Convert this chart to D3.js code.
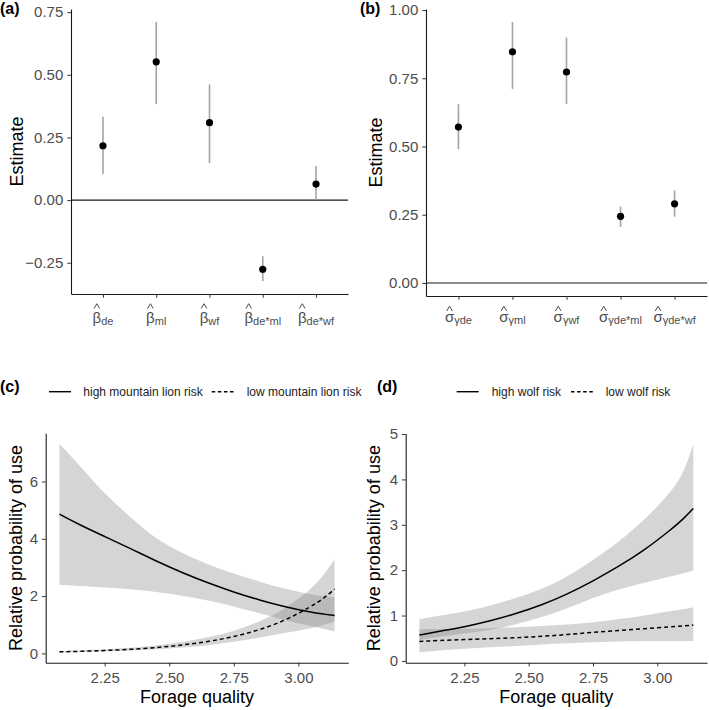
<!DOCTYPE html>
<html><head><meta charset="utf-8">
<script src="https://cdn.jsdelivr.net/npm/d3@7"></script>
<style>
body{margin:0;background:#fff;}
text{font-family:"Liberation Sans", Arial, sans-serif;}
</style>
</head><body>
<svg id="chart" width="709" height="710"></svg>
<script>
// ---------------- DATA ----------------
// Panel (a): fixed-effect coefficient estimates
const betaSubs = ["de", "ml", "wf", "de*ml", "de*wf"];
const betaEst  = [0.217, 0.552, 0.309, -0.276, 0.064];
const betaLo   = [0.104, 0.383, 0.148, -0.323, 0.000];
const betaHi   = [0.333, 0.711, 0.462, -0.224, 0.136];
const betaTicks = [-0.25, 0.00, 0.25, 0.50, 0.75];

// Panel (b): random-effect standard deviations
const sigmaSubs = ["γde", "γml", "γwf", "γde*ml", "γde*wf"];
const sigmaEst  = [0.571, 0.847, 0.773, 0.244, 0.290];
const sigmaLo   = [0.490, 0.711, 0.656, 0.205, 0.243];
const sigmaHi   = [0.655, 0.956, 0.899, 0.280, 0.339];
const sigmaTicks = [0.00, 0.25, 0.50, 0.75, 1.00];

// Panels (c),(d): forage quality grid
const forage = [2.075, 2.15, 2.25, 2.35, 2.45, 2.55, 2.65, 2.75, 2.85, 2.95, 3.05, 3.10, 3.14];
const forageTicks = [2.25, 2.50, 2.75, 3.00];

// (c) mountain lion
const mlHighMean  = [4.86, 4.50, 4.08, 3.66, 3.22, 2.82, 2.46, 2.14, 1.86, 1.62, 1.43, 1.37, 1.32];
const mlHighUpper = [7.32, 6.60, 5.56, 4.75, 3.98, 3.50, 3.10, 2.78, 2.50, 2.25, 2.05, 1.99, 1.95];
const mlHighLower = [2.40, 2.35, 2.30, 2.25, 2.15, 2.02, 1.85, 1.65, 1.40, 1.15, 0.95, 0.85, 0.77];
const mlLowMean   = [0.055, 0.07, 0.10, 0.14, 0.20, 0.29, 0.41, 0.58, 0.82, 1.15, 1.64, 1.93, 2.25];
const mlLowUpper  = [0.08, 0.10, 0.14, 0.19, 0.27, 0.39, 0.55, 0.78, 1.10, 1.55, 2.25, 2.75, 3.28];
const mlLowLower  = [0.04, 0.05, 0.07, 0.10, 0.14, 0.20, 0.28, 0.40, 0.55, 0.72, 0.88, 1.00, 1.12];
const mlTicks = [0, 2, 4, 6];

// (d) wolf
const wfHighMean  = [0.57, 0.65, 0.75, 0.88, 1.04, 1.23, 1.47, 1.76, 2.08, 2.44, 2.88, 3.12, 3.36];
const wfHighUpper = [0.92, 0.99, 1.08, 1.22, 1.38, 1.58, 1.85, 2.22, 2.62, 3.10, 3.70, 4.10, 4.78];
const wfHighLower = [0.46, 0.53, 0.60, 0.68, 0.80, 0.96, 1.15, 1.40, 1.58, 1.72, 1.86, 1.93, 1.99];
const wfLowMean   = [0.43, 0.45, 0.47, 0.49, 0.51, 0.54, 0.58, 0.63, 0.67, 0.71, 0.75, 0.77, 0.79];
const wfLowUpper  = [0.70, 0.70, 0.71, 0.72, 0.74, 0.77, 0.80, 0.85, 0.92, 1.00, 1.10, 1.14, 1.18];
const wfLowLower  = [0.19, 0.23, 0.27, 0.30, 0.33, 0.36, 0.39, 0.41, 0.43, 0.44, 0.44, 0.44, 0.44];
const wfTicks = [0, 1, 2, 3, 4, 5];

// ---------------- DRAW ----------------
const svg = d3.select("#chart");
const TICKCOL = "#4d4d4d";
const AXCOL = "#1a1a1a";

function expand(lo, hi, f) { const d = (hi - lo) * f; return [lo - d, hi + d]; }

function styleAxis(g) {
  g.selectAll(".domain").attr("stroke", AXCOL).attr("stroke-width", 1.1);
  g.selectAll(".tick line").attr("stroke", "#333").attr("stroke-width", 1);
  g.selectAll(".tick text").attr("fill", TICKCOL).style("font-size", "15px")
    .style("font-family", '"Liberation Sans", Arial, sans-serif');
}

function yTitle(text, x, yc) {
  svg.append("text").attr("transform", `translate(${x},${yc}) rotate(-90)`)
    .attr("text-anchor", "middle").style("font-size", "18px").attr("fill", "#000").text(text);
}
function tag(text, x, y) {
  svg.append("text").attr("x", x).attr("y", y).style("font-size", "16px")
    .style("font-weight", "bold").attr("fill", "#000").text(text);
}

function coefPanel(o) {
  const n = o.est.length;
  const idx = d3.range(n);
  const x = d3.scalePoint().domain(idx).range([o.left, o.right]).padding(0.6);
  const ydom = expand(Math.min(0, d3.min(o.lo)), Math.max(0, d3.max(o.hi)), 0.05);
  const y = d3.scaleLinear().domain(ydom).range([o.bottom, o.top]);
  const g = svg.append("g");

  g.append("line").attr("x1", o.left).attr("x2", o.right)
    .attr("y1", y(0)).attr("y2", y(0)).attr("stroke", AXCOL).attr("stroke-width", 1.1);
  g.selectAll(".eb").data(idx).enter().append("line")
    .attr("x1", i => x(i)).attr("x2", i => x(i))
    .attr("y1", i => y(o.lo[i])).attr("y2", i => y(o.hi[i]))
    .attr("stroke", "#a3a3a3").attr("stroke-width", 1.6);
  g.selectAll(".pt").data(idx).enter().append("circle")
    .attr("cx", i => x(i)).attr("cy", i => y(o.est[i])).attr("r", 3.6).attr("fill", "#000");

  const ya = svg.append("g").attr("transform", `translate(${o.left},0)`)
    .call(d3.axisLeft(y).tickValues(o.ticks).tickFormat(d3.format(".2f")).tickSize(3.7).tickSizeOuter(0).tickPadding(4));
  styleAxis(ya);
  const xa = svg.append("g").attr("transform", `translate(0,${o.bottom})`)
    .call(d3.axisBottom(x).tickFormat("").tickSize(3.7).tickSizeOuter(0));
  styleAxis(xa);

  // labels: base symbol with subscript, hat drawn as a small caret mark
  idx.forEach(i => {
    const t = svg.append("text").attr("x", x(i)).attr("y", o.labBase)
      .attr("text-anchor", "middle").attr("fill", TICKCOL).style("font-size", "15px");
    t.append("tspan").text(o.base);
    t.append("tspan").attr("dy", o.subDy).style("font-size", "11px").text(o.subs[i]);
    const ext = t.node().getExtentOfChar(0);
    const cx = ext.x + ext.width / 2;
    svg.append("path")
      .attr("d", `M${cx - 2.8},${o.hatBottom} L${cx},${o.hatBottom - 4.8} L${cx + 2.8},${o.hatBottom}`)
      .attr("fill", "none").attr("stroke", TICKCOL).attr("stroke-width", 1);
  });
  yTitle("Estimate", o.titleX, (o.top + o.bottom) / 2);
}

coefPanel({ est: betaEst, lo: betaLo, hi: betaHi, subs: betaSubs, base: "β", ticks: betaTicks,
  left: 71, right: 348, top: 9, bottom: 294, labBase: 322.5, subDy: 2.5, hatBottom: 308.5, titleX: 22.5 });
coefPanel({ est: sigmaEst, lo: sigmaLo, hi: sigmaHi, subs: sigmaSubs, base: "σ", ticks: sigmaTicks,
  left: 426, right: 707, top: 9, bottom: 296, labBase: 321.5, subDy: 2.5, hatBottom: 311, titleX: 382 });
tag("(a)", 0, 14);
tag("(b)", 360, 14);

function curvePanel(o) {
  const xdom = expand(d3.min(forage), d3.max(forage), 0.05);
  const x = d3.scaleLinear().domain(xdom).range([o.left, o.right]);
  const ymin = Math.min(d3.min(o.highLower), d3.min(o.lowLower));
  const ymax = Math.max(d3.max(o.highUpper), d3.max(o.lowUpper));
  const y = d3.scaleLinear().domain(expand(ymin, ymax, 0.05)).range([o.bottom, o.top]);
  const idx = d3.range(forage.length);
  const curve = d3.curveBasis;
  const area = (lo, hi) => d3.area().x(i => x(forage[i])).y0(i => y(lo[i])).y1(i => y(hi[i])).curve(curve)(idx);
  const line = (m) => d3.line().x(i => x(forage[i])).y(i => y(m[i])).curve(curve)(idx);

  svg.append("path").attr("d", area(o.highLower, o.highUpper)).attr("fill", "#808080").attr("fill-opacity", 0.33);
  svg.append("path").attr("d", area(o.lowLower, o.lowUpper)).attr("fill", "#808080").attr("fill-opacity", 0.33);
  svg.append("path").attr("d", line(o.highMean)).attr("fill", "none").attr("stroke", "#000").attr("stroke-width", 1.5);
  svg.append("path").attr("d", line(o.lowMean)).attr("fill", "none").attr("stroke", "#000").attr("stroke-width", 1.5)
    .attr("stroke-dasharray", "4,3");

  const ya = svg.append("g").attr("transform", `translate(${o.left},0)`)
    .call(d3.axisLeft(y).tickValues(o.ticks).tickFormat(d3.format("d")).tickSize(3.7).tickSizeOuter(0).tickPadding(4));
  styleAxis(ya);
  const xa = svg.append("g").attr("transform", `translate(0,${o.bottom})`)
    .call(d3.axisBottom(x).tickValues(forageTicks).tickFormat(d3.format(".2f")).tickSize(3.7).tickSizeOuter(0).tickPadding(6));
  styleAxis(xa);

  yTitle("Relative probability of use", o.titleX, (o.top + o.bottom) / 2);
  svg.append("text").attr("x", (o.left + o.right) / 2).attr("y", 703).attr("text-anchor", "middle")
    .style("font-size", "18px").attr("fill", "#000").text("Forage quality");

  const L = o.legend;
  svg.append("line").attr("x1", L.x1).attr("x2", L.x1 + 22).attr("y1", 391.7).attr("y2", 391.7)
    .attr("stroke", "#000").attr("stroke-width", 1.4);
  svg.append("text").attr("x", L.t1).attr("y", 396).style("font-size", "12px").attr("fill", "#222").text(L.label1);
  svg.append("line").attr("x1", L.x2).attr("x2", L.x2 + 22).attr("y1", 391.7).attr("y2", 391.7)
    .attr("stroke", "#000").attr("stroke-width", 1.4).attr("stroke-dasharray", "3.5,2.6");
  svg.append("text").attr("x", L.t2).attr("y", 396).style("font-size", "12px").attr("fill", "#222").text(L.label2);
}

curvePanel({ highMean: mlHighMean, highUpper: mlHighUpper, highLower: mlHighLower,
  lowMean: mlLowMean, lowUpper: mlLowUpper, lowLower: mlLowLower, ticks: mlTicks,
  left: 45.7, right: 348.3, top: 433.3, bottom: 662.7, titleX: 22,
  legend: { x1: 49, t1: 83.3, x2: 211.7, t2: 246.7, label1: "high mountain lion risk", label2: "low mountain lion risk" } });
curvePanel({ highMean: wfHighMean, highUpper: wfHighUpper, highLower: wfHighLower,
  lowMean: wfLowMean, lowUpper: wfLowUpper, lowLower: wfLowLower, ticks: wfTicks,
  left: 405.7, right: 707, top: 433.6, bottom: 662.7, titleX: 380,
  legend: { x1: 456.7, t1: 491.7, x2: 571, t2: 605.7, label1: "high wolf risk", label2: "low wolf risk" } });
tag("(c)", 0, 392);
tag("(d)", 377, 391.5);
</script>
</body></html>
